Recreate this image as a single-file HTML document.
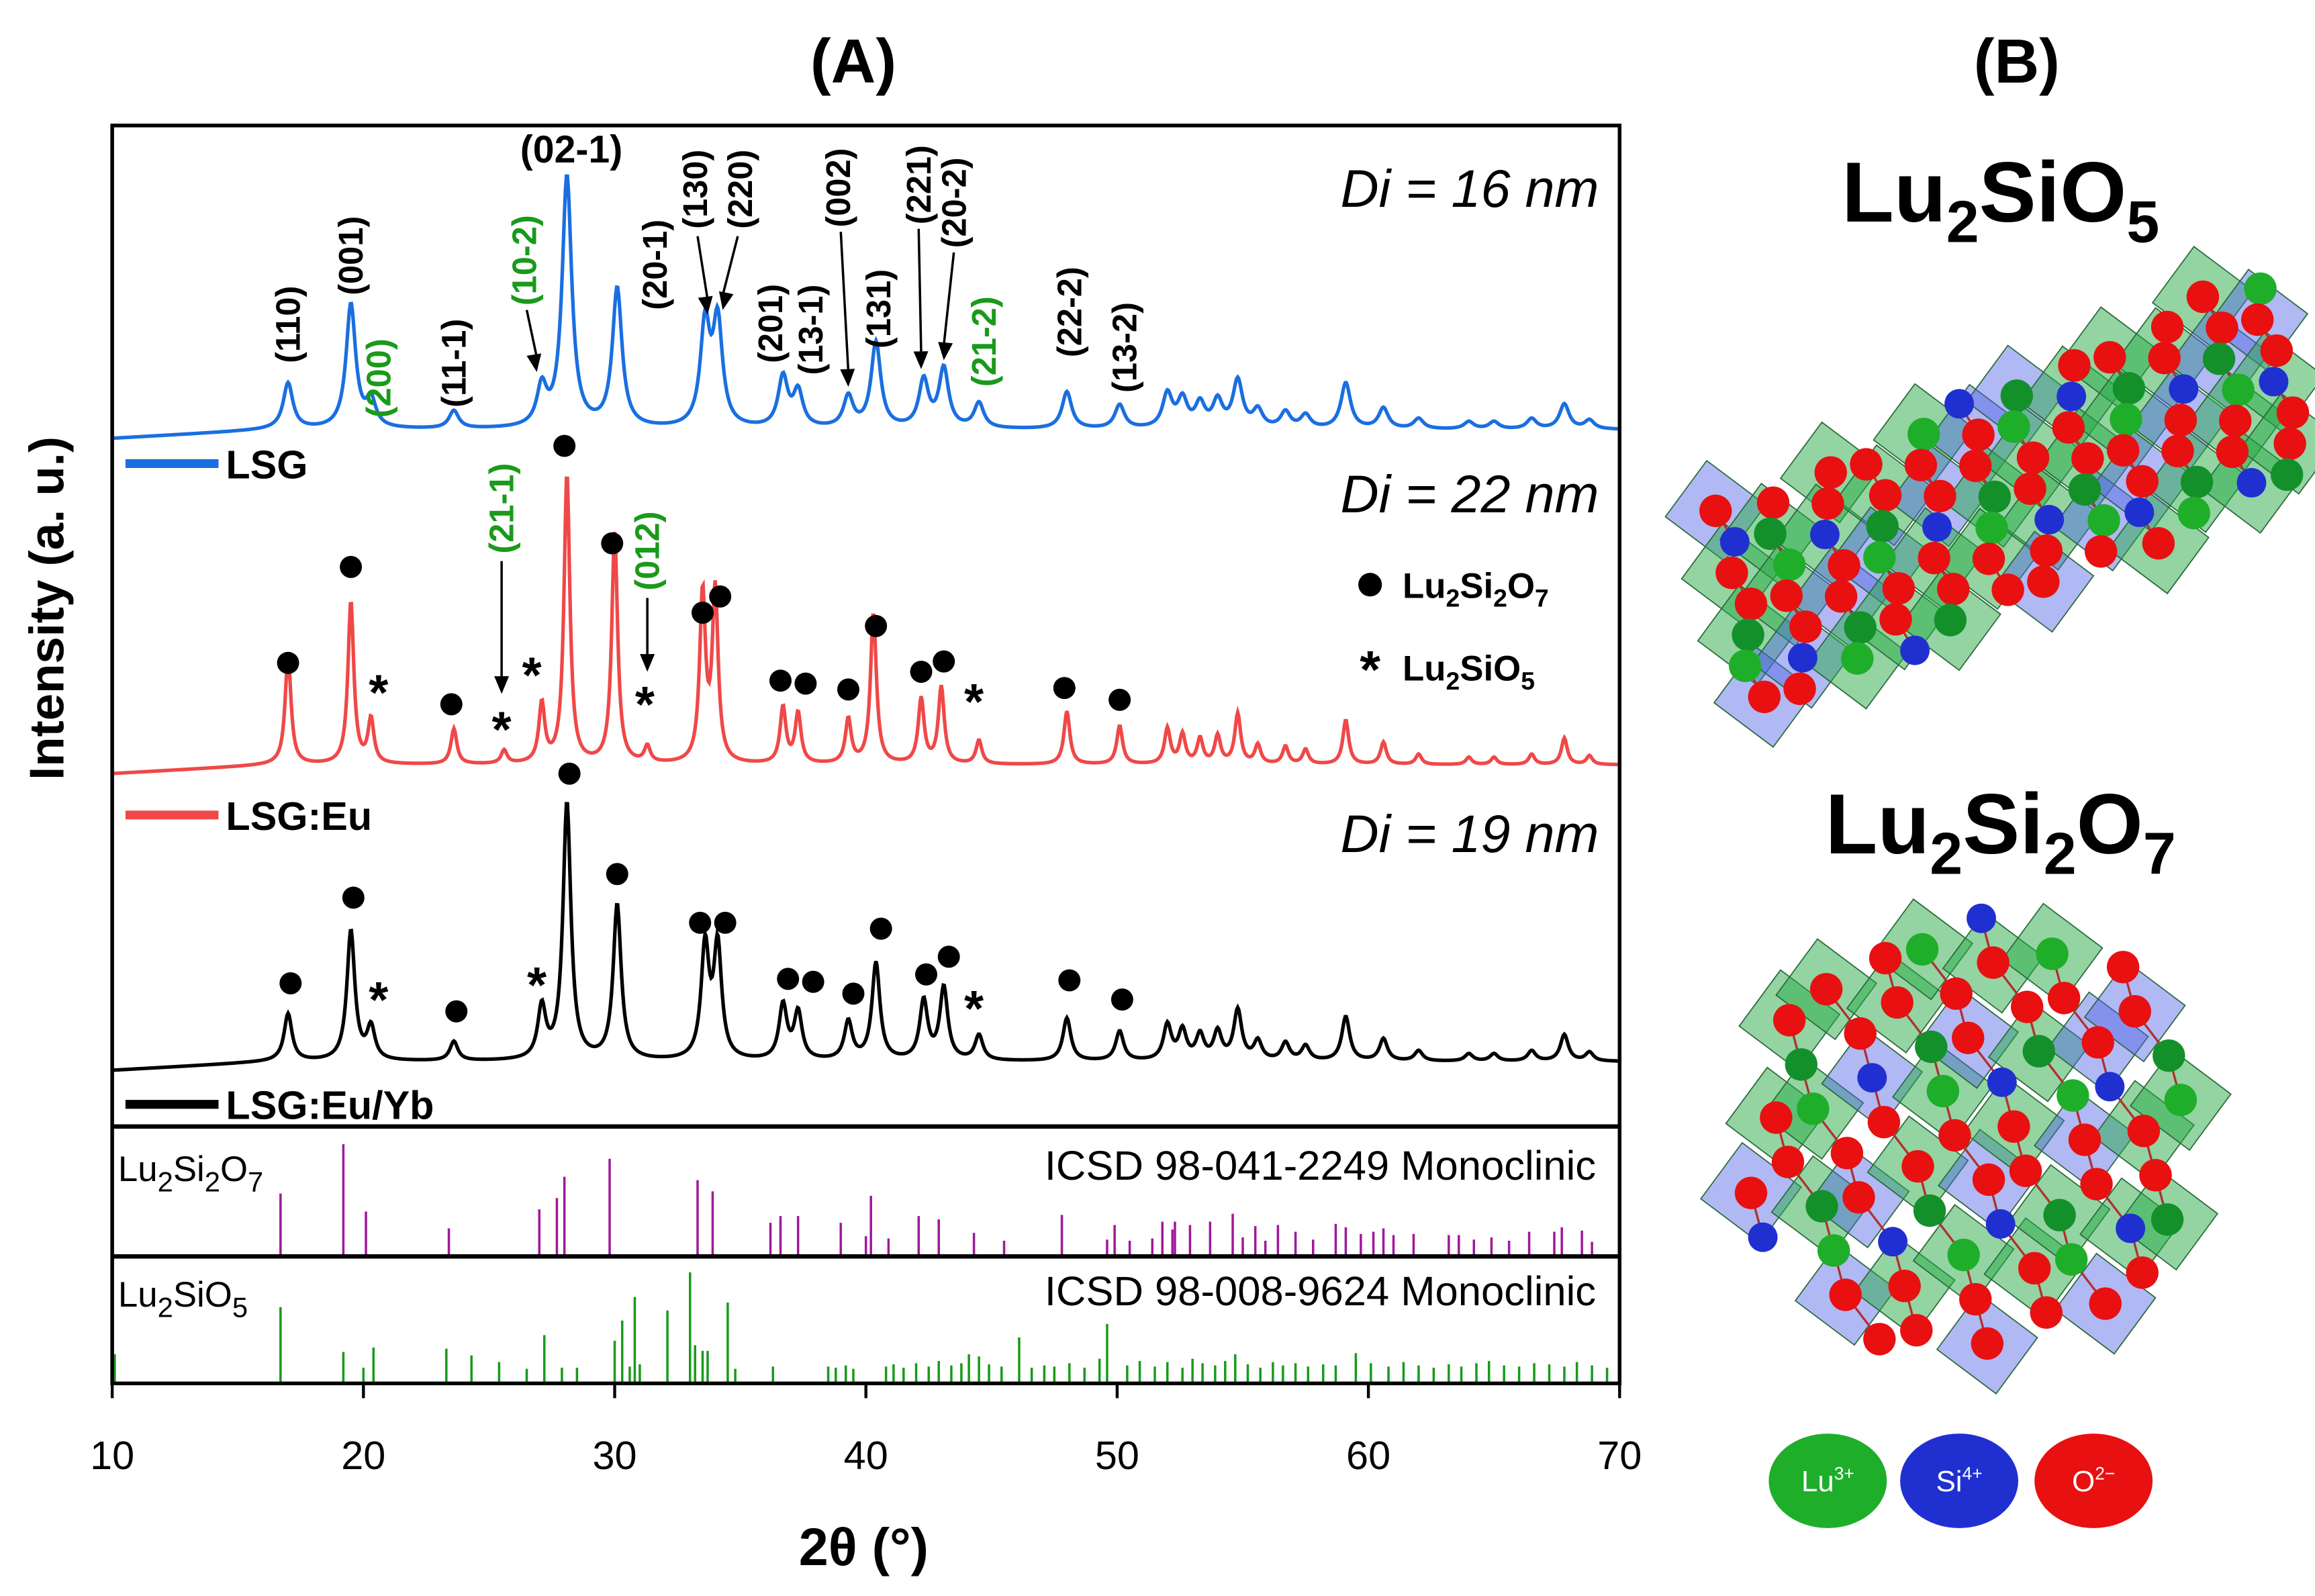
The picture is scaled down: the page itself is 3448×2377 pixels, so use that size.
<!DOCTYPE html>
<html><head><meta charset="utf-8"><style>
html,body{margin:0;padding:0;background:#fff}
svg{display:block}
text{font-family:"Liberation Sans",sans-serif}
</style></head><body>
<svg id="fig" xmlns="http://www.w3.org/2000/svg" width="3448" height="2377" viewBox="0 0 1568 1081" preserveAspectRatio="none">
<rect width="1568" height="1081" fill="#fff"/>
<text x="578" y="56" font-size="42" font-weight="bold" text-anchor="middle">(A)</text>
<text x="1366" y="56" font-size="42" font-weight="bold" text-anchor="middle">(B)</text>
<g id="plot"></g>
<g id="struct"></g>
</svg>
<script>
// ---- data ----
const blueBase = 291, redBase = 518, blackBase = 719;
const bluePos = [17.0,19.5,20.3,23.6,27.1,28.1,30.1,33.6,34.1,36.7,37.3,39.3,40.4,42.3,43.1,44.5,48.0,50.1,52.0,52.6,53.3,54.0,54.8,55.6,56.7,57.5,59.1,60.6,62.0,64.0,65.0,66.5,67.8,68.8];
const blueInt = [31,84,18,12,26,170,94,68,70,34,24,21,58,32,40,17,25,16,23,19,16,18,32,12,11,9,31,14,7,5,5,7,17,6];
const redPos  = [17.0,19.5,20.3,23.6,25.6,27.1,28.1,30.0,31.3,33.5,34.0,36.7,37.3,39.3,40.3,42.2,43.0,44.5,48.0,50.1,52.0,52.6,53.3,54.0,54.8,55.6,56.7,57.5,59.1,60.6,62.0,64.0,65.0,66.5,67.8,68.8];
const redInt  = [74,110,30,24,9,40,196,156,11,114,116,38,34,30,102,44,52,16,36,26,24,20,17,19,34,13,12,10,30,15,7,5,5,7,18,6];
const blackPos = [17.0,19.5,20.3,23.6,27.1,28.1,30.1,33.6,34.1,36.7,37.3,39.3,40.4,42.3,43.1,44.5,48.0,50.1,52.0,52.6,53.3,54.0,54.8,55.6,56.7,57.5,59.1,60.6,62.0,64.0,65.0,66.5,67.8,68.8];
const blackInt = [32,88,22,13,35,174,105,76,76,37,32,26,66,40,49,17,29,20,24,20,17,19,34,13,12,10,30,15,7,5,5,7,18,6];
const pyroPos = [16.7,19.2,20.1,23.4,27.0,27.7,28.0,29.8,33.3,33.9,36.2,36.6,37.3,39.0,40.0,40.2,40.9,42.1,42.9,44.3,45.5,47.8,49.6,49.9,50.5,51.4,51.8,52.2,52.3,52.9,53.7,54.6,55.0,55.5,55.9,56.4,57.1,57.8,58.7,59.1,59.7,60.2,60.6,61.0,61.8,63.2,63.6,64.2,64.9,65.6,66.4,67.4,67.7,68.5,68.9,70.0];
const pyroInt = [56,100,40,25,42,52,71,87,68,58,30,36,36,30,18,54,16,36,33,21,14,37,15,28,14,16,31,24,31,28,31,38,17,27,14,28,22,15,29,26,20,22,25,19,20,19,19,15,17,14,22,22,26,23,13,8];
const oxyPos = [10.1,16.7,19.2,20.0,20.4,23.3,24.3,25.4,26.5,27.2,27.9,28.5,30.0,30.3,30.6,30.8,31.0,32.1,33.0,33.2,33.5,33.7,34.5,34.8,36.3,38.5,38.8,39.2,39.5,40.8,41.1,41.5,42.0,42.5,42.9,43.4,43.8,44.1,44.5,44.9,45.4,46.1,46.6,47.1,47.5,48.1,48.7,49.3,49.6,50.4,50.9,51.5,52.0,52.6,53.0,53.4,53.9,54.3,54.7,55.2,55.7,56.2,56.6,57.1,57.6,58.2,58.7,59.5,60.1,60.8,61.4,62.0,62.6,63.2,63.7,64.3,64.8,65.4,66.0,66.6,67.2,67.8,68.3,68.9,69.5];
const oxyInt = [26,68,28,14,32,31,25,19,13,43,14,14,38,56,15,77,17,65,99,34,29,29,72,13,15,15,14,16,13,15,17,14,18,15,20,16,18,26,24,17,15,41,14,16,15,18,14,22,53,16,20,15,19,14,22,18,16,20,26,17,14,19,16,18,15,17,16,27,18,15,19,16,14,17,15,18,20,16,15,18,17,15,19,16,14];
const tickLabels = [10,20,30,40,50,60,70];
const hkl = [
 ["(110)",17.0,246,"#000"],["(001)",19.5,200,"#000"],["(200)",20.6,283,"#1a9a1a"],["(11-1)",23.6,276,"#000"],
 ["(10-2)",26.4,207,"#1a9a1a"],["(20-1)",31.6,210,"#000"],["(130)",33.2,155,"#000"],["(220)",35.0,155,"#000"],
 ["(201)",36.2,246,"#000"],["(13-1)",37.8,254,"#000"],["(002)",38.9,154,"#000"],["(131)",40.5,236,"#000"],
 ["(221)",42.1,152,"#000"],["(20-2)",43.5,168,"#000"],["(21-2)",44.7,262,"#1a9a1a"],["(22-2)",48.1,242,"#000"],["(13-2)",50.3,266,"#000"],
 ["(21-1)",25.5,375,"#1a9a1a"],["(012)",31.3,400,"#1a9a1a"]];
const arrows = [[26.5,210,26.9,252],[33.3,160,33.7,213],[34.9,160,34.3,210],[39.0,157,39.3,262],[42.1,155,42.2,250],[43.5,171,43.1,244],[25.5,380,25.5,470],[31.3,405,31.3,455]];
const redDots = [[17.0,449],[19.5,384],[23.5,477],[28.0,302],[29.9,368],[33.5,415],[34.2,404],[36.6,461],[37.6,463],[39.3,467],[40.4,424],[42.2,455],[43.1,448],[47.9,466],[50.1,474]];
const redStars = [[20.6,467],[25.5,492],[26.7,455],[31.2,475],[44.3,473]];
const blackDots = [[17.1,666],[19.6,608],[23.7,685],[28.2,524],[30.1,592],[33.4,625],[34.4,625],[36.9,663],[37.9,665],[39.5,673],[40.6,629],[42.4,660],[43.3,648],[48.1,664],[50.2,677]];
const blackStars = [[20.6,675],[26.9,665],[44.3,681]];

// ---- axes ----
const X0=76,X1=1097,T0=85,B=937;
const xs = t => X0 + (t-10)*(X1-X0)/60;
const NS="http://www.w3.org/2000/svg";
const plot=document.getElementById('plot');
function mk(tag,attrs,parent){const e=document.createElementNS(NS,tag);for(const k in attrs)e.setAttribute(k,attrs[k]);(parent||plot).appendChild(e);return e;}

function pattern(pos,ints,base,w){
  let d="";
  for(let t=10;t<=70.001;t+=0.04){
    let y=0;
    for(let i=0;i<pos.length;i++){const u=(t-pos[i])/w;y+=ints[i]/(1+u*u);}
    let b=base+(t<16.5?6*(16.5-t)/6.5:0);
    d+=(d?"L":"M")+xs(t).toFixed(2)+","+(b-y).toFixed(2);
  }
  return d;
}
let p;
p=mk('path',{d:pattern(bluePos,blueInt,blueBase,0.23),fill:"none",stroke:"#1a6fe0","stroke-width":2.4});


p=mk('path',{d:pattern(redPos,redInt,redBase,0.14),fill:"none",stroke:"#f04848","stroke-width":2.4});


p=mk('path',{d:pattern(blackPos,blackInt,blackBase,0.19),fill:"none",stroke:"#000","stroke-width":2.4});



// reference sticks
const pyroBase=851, oxyBase=937, stickScale=0.76;
pyroPos.forEach((t,i)=>{const l=mk('line',{x1:xs(t),x2:xs(t),y1:pyroBase,y2:pyroBase-pyroInt[i]*stickScale,stroke:"#a0189a","stroke-width":1.6});

});
oxyPos.forEach((t,i)=>{const l=mk('line',{x1:xs(t),x2:xs(t),y1:oxyBase,y2:oxyBase-oxyInt[i]*stickScale,stroke:"#1a9a1a","stroke-width":1.6});

});

// frame
let f=mk('rect',{x:X0,y:T0,width:X1-X0,height:B-T0,fill:"none",stroke:"#000","stroke-width":2.5});


[763,851].forEach(y=>{const l=mk('line',{x1:X0,x2:X1,y1:y,y2:y,stroke:"#000","stroke-width":3});

});
tickLabels.forEach(v=>{
  const l=mk('line',{x1:xs(v),x2:xs(v),y1:B,y2:B+10,stroke:"#000","stroke-width":2});
  
  
  const t=mk('text',{x:xs(v),y:995,"font-size":27,"text-anchor":"middle"});t.textContent=v;
  
  
});
function txt(s,x,y,attrs,name){const t=mk('text',Object.assign({x:x,y:y},attrs));t.innerHTML=s;return t;}
txt("2θ (°)",585,1060,{"font-size":36,"font-weight":"bold","text-anchor":"middle"},"x-axis-title");
txt("Intensity (a. u.)",0,0,{"font-size":33,"font-weight":"bold","text-anchor":"middle",transform:"translate(43,412) rotate(-90)"},"y-axis-title");
txt("Di = 16 nm",1083,140,{"font-size":36,"font-style":"italic","text-anchor":"end"},"crystallite-size-lsg");
txt("Di = 22 nm",1083,347,{"font-size":36,"font-style":"italic","text-anchor":"end"},"crystallite-size-lsg-eu");
txt("Di = 19 nm",1083,577,{"font-size":36,"font-style":"italic","text-anchor":"end"},"crystallite-size-lsg-eu-yb");
[["#1a6fe0","LSG",314,"legend-lsg"],["#f04848","LSG:Eu",552,"legend-lsg-eu"],["#000","LSG:Eu/Yb",748,"legend-lsg-eu-yb"]].forEach(a=>{
  const l=mk('line',{x1:85,x2:148,y1:a[2],y2:a[2],stroke:a[0],"stroke-width":6});
  
  
  txt(a[1],153,a[2]+10,{"font-size":27,"font-weight":"bold"},a[3]+'-label');
});
const mc=mk('circle',{cx:928,cy:396,r:8,fill:"#000"});


txt('Lu<tspan dy="6" font-size="17">2</tspan><tspan dy="-6">Si</tspan><tspan dy="6" font-size="17">2</tspan><tspan dy="-6">O</tspan><tspan dy="6" font-size="17">7</tspan>',950,405,{"font-size":24,"font-weight":"bold"},"legend-lu2si2o7");
txt("*",928,466,{"font-size":36,"font-weight":"bold","text-anchor":"middle"},"legend-star-marker");
txt('Lu<tspan dy="6" font-size="17">2</tspan><tspan dy="-6">SiO</tspan><tspan dy="6" font-size="17">5</tspan>',950,461,{"font-size":24,"font-weight":"bold"},"legend-lu2sio5");
txt('Lu<tspan dy="7" font-size="19">2</tspan><tspan dy="-7">Si</tspan><tspan dy="7" font-size="19">2</tspan><tspan dy="-7">O</tspan><tspan dy="7" font-size="19">7</tspan>',80,800,{"font-size":24},"ref-lu2si2o7-label");
txt('Lu<tspan dy="7" font-size="19">2</tspan><tspan dy="-7">SiO</tspan><tspan dy="7" font-size="19">5</tspan>',80,885,{"font-size":24},"ref-lu2sio5-label");
txt("ICSD 98-041-2249 Monoclinic",1081,799,{"font-size":28,"text-anchor":"end"},"ref-lu2si2o7-code");
txt("ICSD 98-008-9624 Monoclinic",1081,884,{"font-size":28,"text-anchor":"end"},"ref-lu2sio5-code");
txt("(02-1)",387,110,{"font-size":26,"font-weight":"bold","text-anchor":"middle"},"hkl-label");
hkl.forEach(h=>{txt(h[0],0,0,{"font-size":23,"font-weight":"bold",fill:h[3],transform:`translate(${xs(h[1])+8},${h[2]}) rotate(-90)`},"hkl-label");});
arrows.forEach(a=>{
  const x1=xs(a[0]),x2=xs(a[2]),y1=a[1],y2=a[3];
  const l=mk('line',{x1:x1,y1:y1,x2:x2,y2:y2-10,stroke:"#000","stroke-width":1.6});
  
  
  const ang=Math.atan2(y2-y1,x2-x1),s=12,wd=5;
  const bx=x2-s*Math.cos(ang),by=y2-s*Math.sin(ang);
  const h=mk('polygon',{points:`${x2},${y2} ${bx-wd*Math.sin(ang)},${by+wd*Math.cos(ang)} ${bx+wd*Math.sin(ang)},${by-wd*Math.cos(ang)}`,fill:"#000"});
  
  
});
redDots.concat(blackDots).forEach(d=>{const c=mk('circle',{cx:xs(d[0]),cy:d[1],r:7.5,fill:"#000"});

});
redStars.concat(blackStars).forEach(d=>{txt("*",xs(d[0]),d[1]+14,{"font-size":34,"font-weight":"bold","text-anchor":"middle"},"lu2sio5-marker");});

// ---- panel B structures ----
const st=document.getElementById('struct');
function sm(tag,attrs){const e=document.createElementNS(NS,tag);for(const k in attrs)e.setAttribute(k,attrs[k]);st.appendChild(e);return e;}
const cols=["#e81010","#1fae2a","#e81010","#2030d0","#e81010","#14902a","#e81010"];
function structure(ox,oy,ax,ay,bx,by,ni,nj,name,clip){
  const g=document.createElementNS(NS,'g');
  
  
  const pts=[];
  for(let i=0;i<ni;i++)for(let j=0;j<nj;j++){
    const x=ox+i*ax+j*bx+((i*7+j*3)%5-2)*3, y=oy+i*ay+j*by+((i*3+j*5)%5-2)*3;
    if(clip && Math.hypot(x-clip[0],(y-clip[1])*1.05)>clip[2]) continue;
    pts.push([x,y,cols[(i*2+j*3)%7]]);
  }
  pts.forEach((p,k)=>{
    if(k%2===0){const q=document.createElementNS(NS,'polygon');
      q.setAttribute('points',`${p[0]-6},${p[1]-34} ${p[0]+34},${p[1]-4} ${p[0]+6},${p[1]+34} ${p[0]-34},${p[1]+4}`);
      q.setAttribute('fill',k%6===0?"rgba(80,100,230,0.45)":"rgba(40,170,70,0.5)");
      q.setAttribute('stroke','#2a6a3a');q.setAttribute('stroke-width','0.8');g.appendChild(q);}
  });
  for(let k=0;k+1<pts.length;k++){
    const l=document.createElementNS(NS,'line');
    l.setAttribute('x1',pts[k][0]);l.setAttribute('y1',pts[k][1]);l.setAttribute('x2',pts[k+1][0]);l.setAttribute('y2',pts[k+1][1]);
    l.setAttribute('stroke','#b03030');l.setAttribute('stroke-width','1.5');
    if(Math.hypot(pts[k][0]-pts[k+1][0],pts[k][1]-pts[k+1][1])<60) g.appendChild(l);
  }
  pts.forEach(p=>{const c=document.createElementNS(NS,'circle');
    c.setAttribute('cx',p[0]);c.setAttribute('cy',p[1]);c.setAttribute('r',p[2]==="#2030d0"?10:11);
    c.setAttribute('fill',p[2]);g.appendChild(c);});
  st.appendChild(g);
}
structure(1168,352,33,-14.5,4,21,12,7,"lu2sio5-structure",null);
structure(1090,700,34,-15,14,30,14,11,"lu2si2o7-structure",[1335,770,160]);
let tt=sm('text',{x:1355,y:150,"font-size":58,"font-weight":"bold","text-anchor":"middle"});
tt.innerHTML='Lu<tspan dy="14" font-size="40">2</tspan><tspan dy="-14">SiO</tspan><tspan dy="14" font-size="40">5</tspan>';


tt=sm('text',{x:1355,y:578,"font-size":58,"font-weight":"bold","text-anchor":"middle"});
tt.innerHTML='Lu<tspan dy="14" font-size="40">2</tspan><tspan dy="-14">Si</tspan><tspan dy="14" font-size="40">2</tspan><tspan dy="-14">O</tspan><tspan dy="14" font-size="40">7</tspan>';


[["#1fae2a","Lu","3+",1238,"legend-lu-ion"],["#2030d0","Si","4+",1327,"legend-si-ion"],["#e81010","O","2−",1418,"legend-o-ion"]].forEach(a=>{
  const e=sm('ellipse',{cx:a[3],cy:1003,rx:40,ry:32,fill:a[0]});
  
  
  const t=sm('text',{x:a[3],y:1010,"font-size":20,fill:"#fff","text-anchor":"middle"});
  t.innerHTML=a[1]+'<tspan dy="-8" font-size="12">'+a[2]+'</tspan>';
  
  
});
</script>
</body></html>
